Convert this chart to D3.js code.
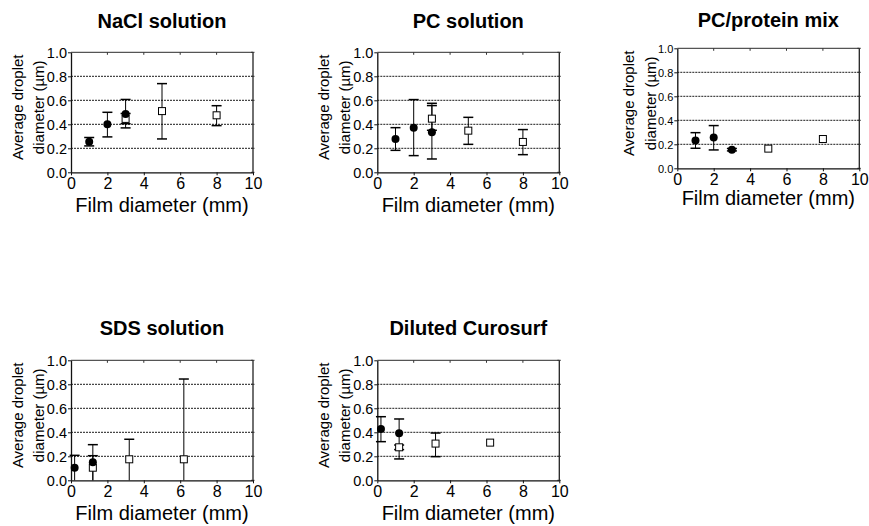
<!DOCTYPE html>
<html>
<head>
<meta charset="utf-8">
<script src="https://cdn.jsdelivr.net/npm/d3@7"></script>
<style>
  html, body { margin: 0; padding: 0; background: #fff; }
  svg { display: block; }
  text { font-family: "Liberation Sans", Arial, sans-serif; fill: #000; }
</style>
</head>
<body>
<svg id="chart" width="869" height="526"></svg>
<script>
// ---------- data ----------
const panelTitles = ["NaCl solution", "PC solution", "PC/protein mix", "SDS solution", "Diluted Curosurf"];
const xTicks = [0, 2, 4, 6, 8, 10];
const yTicks = [0.0, 0.2, 0.4, 0.6, 0.8, 1.0];
const gridValues = [0.2, 0.4, 0.6, 0.8];
const xTitle = "Film diameter (mm)";
const yTitleLines = ["Average droplet", "diameter (\u00B5m)"];

// filled circles
const circleX  = [[1, 2, 3], [1, 2, 3], [1, 2, 3], [0.2, 1.2], [0.2, 1.2]];
const circleY  = [[0.255, 0.40, 0.485], [0.278, 0.372, 0.333], [0.232, 0.256, 0.155], [0.105, 0.15], [0.428, 0.392]];
const circleLo = [[0.22, 0.295, 0.37], [0.183, 0.139, 0.111], [0.167, 0.153, 0.145], [0, 0], [0.322, 0.178]];
const circleHi = [[0.29, 0.50, 0.607], [0.372, 0.606, 0.575], [0.297, 0.356, 0.165], [0.208, 0.297], [0.53, 0.511]];

// open squares
const squareX  = [[3, 5, 8], [3, 5, 8], [5, 8], [1.2, 3.2, 6.2], [1.2, 3.2, 6.2]];
const squareY  = [[0.445, 0.51, 0.475], [0.447, 0.347, 0.253], [0.164, 0.244], [0.105, 0.175, 0.175], [0.275, 0.306, 0.314]];
const squareLo = [[0.405, 0.278, 0.389], [0.35, 0.233, 0.147], [0.164, 0.244], [0, 0, 0], [0.256, 0.197, 0.314]];
const squareHi = [[0.49, 0.739, 0.555], [0.556, 0.458, 0.356], [0.164, 0.244], [0.205, 0.342, 0.844], [0.294, 0.394, 0.314]];

// ---------- layout ----------
const layout = [
  { left: 71,    top: 52.3, titleY: 27.5, yTickSize: 14.5 },
  { left: 377.3, top: 52.3, titleY: 27.5, yTickSize: 14.5 },
  { left: 677.3, top: 48.3, titleY: 26.8, yTickSize: 11 },
  { left: 71,    top: 360.3, titleY: 335, yTickSize: 14.5 },
  { left: 377.3, top: 360.3, titleY: 335, yTickSize: 14.5 }
];
const W = 182, H = 120;

const svg = d3.select("#chart");

panelTitles.forEach((title, i) => {
  const L = layout[i];
  const g = svg.append("g").attr("transform", `translate(${L.left},${L.top})`);
  const x = d3.scaleLinear().domain([0, 10]).range([0, W]);
  const y = d3.scaleLinear().domain([0, 1]).range([H, 0]);

  // gridlines
  g.selectAll("line.grid").data(gridValues).join("line")
    .attr("class", "grid")
    .attr("x1", 0).attr("x2", W)
    .attr("y1", d => y(d)).attr("y2", d => y(d))
    .attr("stroke", "#000").attr("stroke-width", 0.9)
    .attr("stroke-dasharray", "2,1");

  // frame: top (gray) and right
  g.append("line").attr("x1", 0).attr("x2", W).attr("y1", 0).attr("y2", 0)
    .attr("stroke", "#555").attr("stroke-width", 1.3);
  g.append("line").attr("x1", W).attr("x2", W).attr("y1", 0).attr("y2", H)
    .attr("stroke", "#222").attr("stroke-width", 1.3);
  // top inner ticks
  g.selectAll("line.ttick").data(xTicks.slice(1, -1)).join("line")
    .attr("class", "ttick")
    .attr("x1", d => x(d)).attr("x2", d => x(d)).attr("y1", 0).attr("y2", 2.5)
    .attr("stroke", "#333").attr("stroke-width", 1);
  // right ticks
  g.selectAll("line.rtick").data(yTicks).join("line")
    .attr("class", "rtick")
    .attr("x1", W - 2).attr("x2", W + 1.5).attr("y1", d => y(d)).attr("y2", d => y(d))
    .attr("stroke", "#333").attr("stroke-width", 1);

  // axes
  const xa = g.append("g").attr("transform", `translate(0,${H})`)
    .call(d3.axisBottom(x).tickValues(xTicks).tickSize(3).tickSizeOuter(0).tickPadding(2).tickFormat(d3.format("d")));
  xa.selectAll("text").attr("font-size", 16).attr("font-family", "Liberation Sans, Arial, sans-serif").attr("fill", "#000");
  const ya = g.append("g")
    .call(d3.axisLeft(y).tickValues(yTicks).tickSize(3).tickSizeOuter(0).tickPadding(1).tickFormat(d3.format(".1f")));
  ya.selectAll("text").attr("font-size", L.yTickSize).attr("font-family", "Liberation Sans, Arial, sans-serif").attr("fill", "#000")
    .attr("dy", "0.36em");
  [xa, ya].forEach(a => {
    a.select(".domain").attr("stroke", "#111").attr("stroke-width", 1.3);
    a.selectAll(".tick line").attr("stroke", "#111").attr("stroke-width", 1);
  });

  // error bars helper
  function errorBars(xs, ys, lo, hi, cls) {
    const data = xs.map((d, k) => ({ x: d, y: ys[k], lo: lo[k], hi: hi[k] }))
      .filter(d => d.hi - d.lo > 0.0001);
    const eg = g.append("g").attr("class", cls);
    eg.selectAll("line.stem").data(data).join("line")
      .attr("x1", d => x(d.x)).attr("x2", d => x(d.x))
      .attr("y1", d => y(d.lo)).attr("y2", d => y(d.hi))
      .attr("stroke", "#000").attr("stroke-width", 1);
    eg.selectAll("line.capHi").data(data).join("line")
      .attr("x1", d => x(d.x) - 5).attr("x2", d => x(d.x) + 5)
      .attr("y1", d => y(d.hi)).attr("y2", d => y(d.hi))
      .attr("stroke", "#000").attr("stroke-width", 1.5);
    eg.selectAll("line.capLo").data(data.filter(d => d.lo > 0)).join("line")
      .attr("x1", d => x(d.x) - 5).attr("x2", d => x(d.x) + 5)
      .attr("y1", d => y(d.lo)).attr("y2", d => y(d.lo))
      .attr("stroke", "#000").attr("stroke-width", 1.5);
  }

  errorBars(squareX[i], squareY[i], squareLo[i], squareHi[i], "sqerr");
  errorBars(circleX[i], circleY[i], circleLo[i], circleHi[i], "cerr");

  // squares
  const s = 7;
  g.selectAll("rect.sq").data(squareX[i].map((d, k) => ({ x: d, y: squareY[i][k] }))).join("rect")
    .attr("class", "sq")
    .attr("x", d => x(d.x) - s / 2).attr("y", d => y(d.y) - s / 2)
    .attr("width", s).attr("height", s)
    .attr("fill", "#fff").attr("stroke", "#000").attr("stroke-width", 1);

  // circles
  g.selectAll("circle.pt").data(circleX[i].map((d, k) => ({ x: d, y: circleY[i][k] }))).join("circle")
    .attr("class", "pt")
    .attr("cx", d => x(d.x)).attr("cy", d => y(d.y)).attr("r", 4)
    .attr("fill", "#000");

  // titles
  svg.append("text")
    .attr("x", L.left + W / 2).attr("y", L.titleY)
    .attr("text-anchor", "middle")
    .attr("font-size", 20).attr("font-weight", "bold")
    .text(title);

  const xTitleY = (i === 2) ? L.top + H + 37 : L.top + H + 40;
  svg.append("text")
    .attr("x", L.left + W / 2).attr("y", xTitleY)
    .attr("text-anchor", "middle")
    .attr("font-size", 20)
    .text(xTitle);

  const yOff = (i === 2) ? [43, 21] : [48.5, 27];
  yTitleLines.forEach((line, k) => {
    svg.append("text")
      .attr("transform", `translate(${L.left - yOff[k]},${L.top + 55}) rotate(-90)`)
      .attr("text-anchor", "middle")
      .attr("font-size", 15)
      .text(line);
  });
});
</script>
</body>
</html>
